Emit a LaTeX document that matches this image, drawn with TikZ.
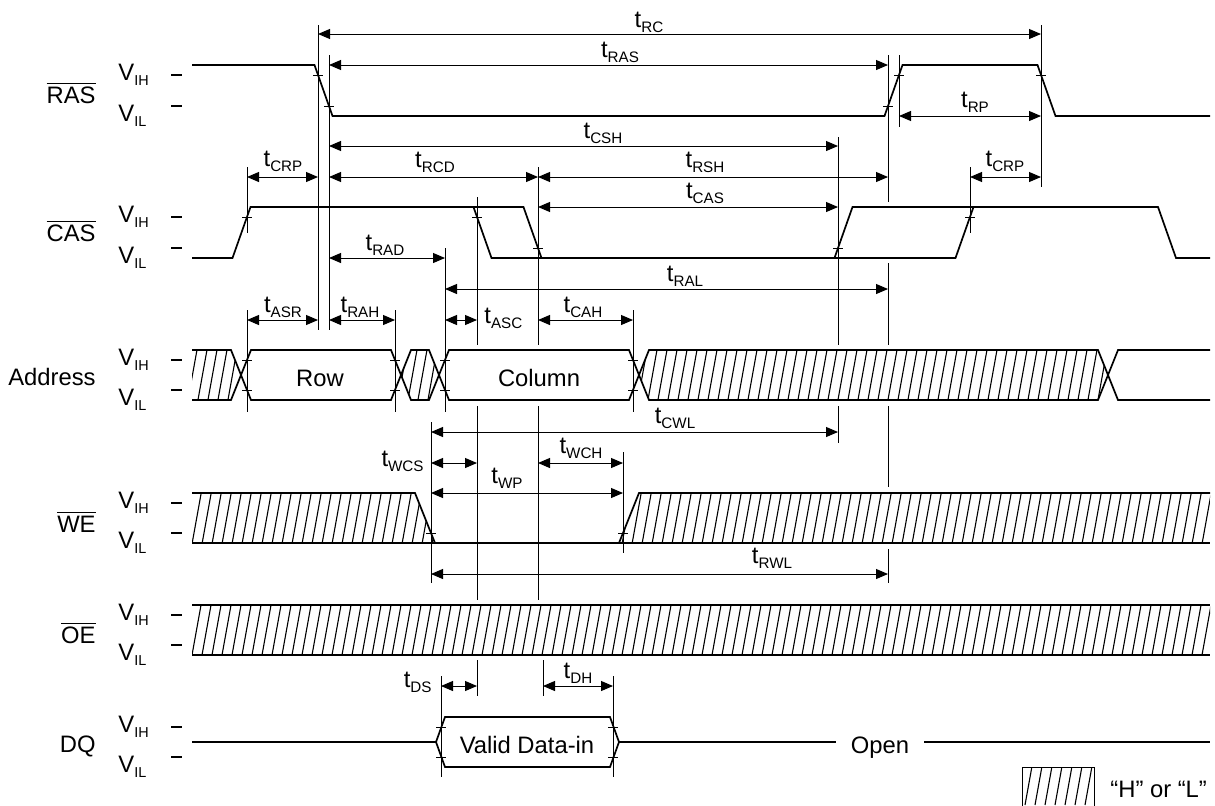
\documentclass[tikz,border=0pt]{standalone}
\usepackage{fontspec}
\setmainfont{Liberation Sans}
\usetikzlibrary{arrows.meta}

\newcommand{\tsub}[1]{t\raisebox{-2.6pt}{\fontsize{7.6}{8}\selectfont #1}}
\newcommand{\vsub}[1]{V\raisebox{-2.6pt}{\fontsize{7.2}{8}\selectfont #1}}
\newcommand{\barsig}[1]{$\overline{\mbox{#1}}$}
% hatch the inside of a closed path ("H" or "L")
\newcommand{\hatchin}[1]{\begin{scope}\clip #1;
  \foreach \hx in {190,200,...,1370} \draw[hatch] (\hx,0) -- ++(-145,805);
  \end{scope}}

\tikzset{
  wave/.style={line width=0.85pt, line join=miter},
  guide/.style={line width=0.5pt},
  hatch/.style={line width=0.55pt},
  dim/.style={guide, >={Triangle[length=6pt,width=5pt]}, <->},
  txt/.style={font=\fontsize{11.9}{13}\selectfont, inner sep=0pt},
  lbl/.style={txt, anchor=base},
}

\begin{document}
\begin{tikzpicture}[x=0.5pt,y=-0.5pt]
  \useasboundingbox (0,0) rectangle (1215,805);

  % signal names, levels
  \foreach \nm/\hi/\lo/\ny [count=\i] in {{\barsig{RAS}}/75/106/103, {\barsig{CAS}}/217/248/241,
      Address/360/390/385, {\barsig{WE}}/503/533/532, {\barsig{OE}}/615/645/643, DQ/727/757/752} {
    \node[txt, anchor=base east] (sig\i) at (96,\ny) {\nm};
    \node[txt, anchor=base west] (vih\i) at (118,\hi+5) {\vsub{IH}};
    \node[txt, anchor=base west] (vil\i) at (118,\lo+15) {\vsub{IL}};
    \draw[line width=0.6pt] (171,\hi) -- (182,\hi) (171,\lo) -- (182,\lo);
  }

  % RAS
  \draw[wave] (192,65) -- (314.5,65) -- (332.5,116) -- (884.5,116) -- (902.5,65)
    -- (1037.5,65) -- (1055.5,116) -- (1210,116);
  % CAS
  \draw[wave] (192,258) -- (232.5,258) -- (250.5,207) -- (523.5,207) -- (541.5,258)
    -- (955.5,258) -- (973.5,207) -- (1158,207) -- (1176,258) -- (1210,258);
  \draw[wave] (473.5,207) -- (491.5,258) -- (541.5,258);
  \draw[wave] (834.5,258) -- (852.5,207) -- (973.5,207);

  % Address
  \hatchin{(192,350) -- (231,350) -- (241,375) -- (231,400) -- (192,400) -- cycle}
  \hatchin{(401,375) -- (411,350) -- (429,350) -- (439,375) -- (429,400) -- (411,400) -- cycle}
  \hatchin{(639,375) -- (649,350) -- (1098,350) -- (1108,375) -- (1098,400) -- (649,400) -- cycle}
  \draw[wave] (192,350) -- (231,350) -- (251,400) -- (391,400) -- (411,350) -- (429,350)
    -- (449,400) -- (629,400) -- (649,350) -- (1098,350) -- (1118,400) -- (1210,400);
  \draw[wave] (192,400) -- (231,400) -- (251,350) -- (391,350) -- (411,400) -- (429,400)
    -- (449,350) -- (629,350) -- (649,400) -- (1098,400) -- (1118,350) -- (1210,350);
  \node[lbl] (row) at (320,386) {Row};
  \node[lbl] (col) at (539,386) {Column};

  % WE
  \hatchin{(192,493) -- (415,493) -- (435,543) -- (192,543) -- cycle}
  \hatchin{(619,543) -- (639,493) -- (1210,493) -- (1210,543) -- cycle}
  \draw[wave] (192,493) -- (415,493) -- (435,543);
  \draw[wave] (192,543) -- (1210,543);
  \draw[wave] (619,543) -- (639,493) -- (1210,493);

  % OE
  \hatchin{(192,605) rectangle (1210,655)}
  \draw[wave] (192,605) -- (1210,605) (192,655) -- (1210,655);

  % DQ
  \draw[wave] (192,742) -- (436,742);
  \draw[wave] (436,742) -- (445,717) -- (610,717) -- (619,742) -- (610,767) -- (445,767) -- cycle;
  \draw[wave] (619,742) -- (836,742) (924,742) -- (1210,742);
  \node[lbl] (din) at (527,753) {Valid Data-in};
  \node[lbl] (open) at (880,753) {Open};

  % guide lines
  \foreach \gx/\ga/\gb in {247/167/233, 247/310/412, 318/25/330, 329/55/330, 395/310/412,
      445/248/412, 477/197/345, 477/406/600, 477/660/696, 538/167/345, 538/406/600,
      633/310/412, 431/422/583, 623/452/553, 838/137/345, 838/406/443, 888/55/202,
      888/263/345, 888/406/487, 888/549/583, 899/55/127, 970/167/233, 1041/25/187,
      441/676/777, 613/676/777, 543/660/696}
    \draw[guide] (\gx,\ga) -- (\gx,\gb);

  % crossing marks
  \foreach \tx/\ty in {318/75, 329/106, 888/106, 899/75, 1041/75, 247/217, 477/217,
      538/248, 838/248, 970/217, 247/360, 247/390, 395/360, 395/390, 445/360, 445/390,
      633/360, 633/390, 431/533, 623/533, 441/727, 441/757, 613/727, 613/757}
    \draw[guide] (\tx-5,\ty) -- (\tx+5,\ty);

  % timings
  \draw[dim] (318,34) -- (1041,34);
  \node[lbl] (trc) at (649,27) {\tsub{RC}};
  \draw[dim] (329,65) -- (888,65);
  \node[lbl] (tras) at (620,57) {\tsub{RAS}};
  \draw[dim] (899,116) -- (1041,116);
  \node[lbl] (trp) at (975,107) {\tsub{RP}};
  \draw[dim] (329,146) -- (838,146);
  \node[lbl] (tcsh) at (603,138) {\tsub{CSH}};
  \draw[dim] (247,177) -- (318,177);
  \node[lbl] (tcrp) at (283,166) {\tsub{CRP}};
  \draw[dim] (329,177) -- (538,177);
  \node[lbl] (trcd) at (435,167) {\tsub{RCD}};
  \draw[dim] (538,177) -- (888,177);
  \node[lbl] (trsh) at (705,167) {\tsub{RSH}};
  \draw[dim] (970,177) -- (1041,177);
  \node[lbl] (tcrpb) at (1005,166) {\tsub{CRP}};
  \draw[dim] (538,207) -- (838,207);
  \node[lbl] (tcas) at (705,198) {\tsub{CAS}};
  \draw[dim] (329,258) -- (445,258);
  \node[lbl] (trad) at (385,250) {\tsub{RAD}};
  \draw[dim] (445,289) -- (888,289);
  \node[lbl] (tral) at (685,281) {\tsub{RAL}};
  \draw[dim] (247,320) -- (318,320);
  \node[lbl] (tasr) at (283,312) {\tsub{ASR}};
  \draw[dim] (329,320) -- (395,320);
  \node[lbl] (trah) at (360,312) {\tsub{RAH}};
  \draw[dim] (445,320) -- (477,320);
  \node[lbl, anchor=base west] (tasc) at (484,323) {\tsub{ASC}};
  \draw[dim] (538,320) -- (633,320);
  \node[lbl] (tcah) at (583,312) {\tsub{CAH}};
  \draw[dim] (431,432) -- (838,432);
  \node[lbl] (tcwl) at (675,423) {\tsub{CWL}};
  \draw[dim] (431,463) -- (477,463);
  \node[lbl, anchor=base east] (twcs) at (424,466) {\tsub{WCS}};
  \draw[dim] (538,463) -- (623,463);
  \node[lbl] (twch) at (581,453) {\tsub{WCH}};
  \draw[dim] (431,493) -- (623,493);
  \node[lbl] (twp) at (507,483) {\tsub{WP}};
  \draw[dim] (431,574) -- (888,574);
  \node[lbl] (trwl) at (772,563) {\tsub{RWL}};
  \draw[dim] (441,686) -- (477,686);
  \node[lbl, anchor=base east] (tds) at (432,687) {\tsub{DS}};
  \draw[dim] (543,686) -- (613,686);
  \node[lbl] (tdh) at (578,678) {\tsub{DH}};

  % legend
  \hatchin{(1022,767) rectangle (1094,810)}
  \draw[guide] (1022,810) -- (1022,767) -- (1094,767) -- (1094,810);
  \node[lbl, anchor=base west] (hl) at (1110,797) {“H” or “L”};
\end{tikzpicture}
\end{document}
